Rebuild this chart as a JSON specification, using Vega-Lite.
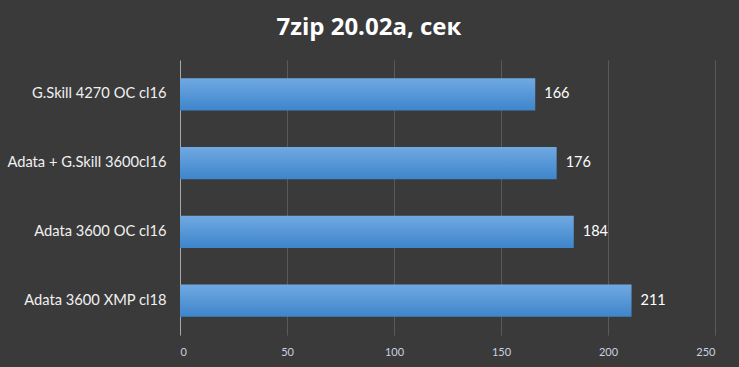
{
  "$schema": "https://vega.github.io/schema/vega-lite/v6.json",
  "width": 535,
  "height": 275,
  "autosize": {"type": "none"},
  "padding": {"left": 180, "top": 60, "right": 24, "bottom": 32},
  "background": "#3a3a3a",
  "title": {
    "text": "7zip 20.02а, сек",
    "frame": "bounds",
    "anchor": "middle",
    "dx": 8,
    "offset": 20,
    "font": "Open Sans",
    "fontSize": 24,
    "fontWeight": "bold",
    "color": "#ffffff"
  },
  "config": {
    "view": {"stroke": null},
    "font": "Lato"
  },
  "data": {
    "values": [
      {"config": "G.Skill 4270 OC cl16", "sec": 166},
      {"config": "Adata + G.Skill 3600cl16", "sec": 176},
      {"config": "Adata 3600 OC cl16", "sec": 184},
      {"config": "Adata 3600 XMP cl18", "sec": 211}
    ]
  },
  "encoding": {
    "y": {
      "field": "config",
      "type": "nominal",
      "sort": null,
      "title": null,
      "scale": {"paddingInner": 0.53, "paddingOuter": 0.265},
      "axis": {
        "ticks": false,
        "domainColor": "#a8a8a8",
        "domainWidth": 1,
        "labelColor": "#f0f0f0",
        "labelFont": "Lato",
        "labelFontSize": 14.7,
        "labelPadding": 14,
        "labelLimit": 200
      }
    },
    "x": {
      "field": "sec",
      "type": "quantitative",
      "title": null,
      "scale": {"domain": [0, 250], "nice": false},
      "axis": {
        "values": [0, 50, 100, 150, 200, 250],
        "domain": false,
        "ticks": false,
        "grid": true,
        "gridColor": "#5a5a5a",
        "gridWidth": 1,
        "labelColor": "#c8d2e0",
        "labelFont": "Lato",
        "labelFontSize": 11,
        "labelPadding": 11
      }
    }
  },
  "layer": [
    {
      "mark": {
        "type": "bar",
        "color": {
          "gradient": "linear",
          "x1": 0, "y1": 0, "x2": 0, "y2": 1,
          "stops": [
            {"offset": 0, "color": "#70a9e2"},
            {"offset": 1, "color": "#3e85cb"}
          ]
        }
      }
    },
    {
      "mark": {
        "type": "text",
        "align": "left",
        "dx": 9,
        "color": "#ffffff",
        "font": "Lato",
        "fontSize": 14.5
      },
      "encoding": {"text": {"field": "sec", "type": "quantitative"}}
    }
  ]
}
